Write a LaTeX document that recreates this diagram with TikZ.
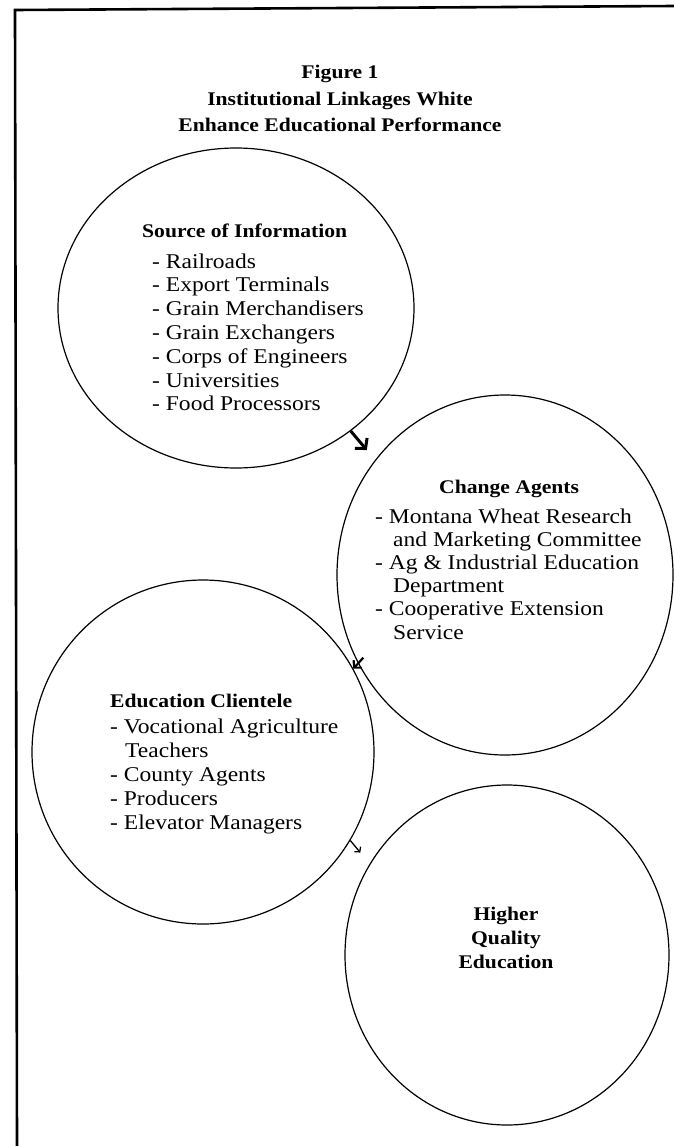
\documentclass[tikz,border=0pt]{standalone}
\usepackage{fontspec}
\setmainfont{Liberation Serif}[FakeStretch=1.12]
\usetikzlibrary{shapes.geometric,arrows.meta,calc}

\newcommand\bodysize{\fontsize{21}{24}\selectfont}
\newcommand\headsize{\fontsize{19.3}{24}\selectfont\bfseries}

\tikzset{
  bubble/.style={ellipse, draw, line width=1.2pt, inner sep=0pt},
  item/.style={anchor=base west, inner sep=0pt, font=\bodysize},
  head/.style={anchor=base west, inner sep=0pt, font=\headsize},
  bigarr/.style={line width=3pt, -{Straight Barb[length=7pt,width=16pt]}},
  smallarr/.style={line width=2.2pt, -{Straight Barb[length=5pt,width=11pt]}},
  thinarr/.style={line width=1.3pt, -{Straight Barb[length=3.5pt,width=8pt]}},
}

\begin{document}
\begin{tikzpicture}[x=1pt,y=-1pt]
  \useasboundingbox (0,0) rectangle (674,1146);
  %%%%% frame %%%%%
  \draw[line width=2.6pt] (17,1146) -- (15,10) -- (674,6);

  %%%%% title %%%%%
  \node[font=\headsize, anchor=base, inner sep=0pt] (fig) at (340,78) {Figure 1};
  \node[font=\headsize, anchor=base, inner sep=0pt] (ttl1) at (340,105) {Institutional Linkages White};
  \node[font=\headsize, anchor=base, inner sep=0pt] (ttl2) at (340,131) {Enhance Educational Performance};

  %%%%% bubbles %%%%%
  \node[bubble, minimum width=356pt, minimum height=320pt] (src) at (236,308) {};
  \node[bubble, minimum width=336pt, minimum height=360pt] (agents) at (505,575) {};
  \node[bubble, minimum width=342pt, minimum height=344pt] (clients) at (203,752) {};
  \node[bubble, minimum width=324pt, minimum height=340pt] (quality) at (507,955) {};

  %%%%% source of information %%%%%
  \node[head] (src-h) at (142,237) {Source of Information};
  \foreach \t [count=\i from 0] in {Railroads, Export Terminals, Grain Merchandisers,
      Grain Exchangers, Corps of Engineers, Universities, Food Processors}
    \node[item] (src-\i) at (152,268+23.8*\i) {- \t};

  %%%%% change agents %%%%%
  \node[head] (agents-h) at (439,493) {Change Agents};
  \foreach \x/\t [count=\i from 0] in {375/- Montana Wheat Research, 393/and Marketing Committee,
      375/- Ag \& Industrial Education, 393/Department, 375/- Cooperative Extension, 393/Service}
    \node[item] (agents-\i) at (\x,523+23.2*\i) {\t};

  %%%%% education clientele %%%%%
  \node[head] (clients-h) at (110,707) {Education Clientele};
  \foreach \x/\t [count=\i from 0] in {110/- Vocational Agriculture, 125/Teachers,
      110/- County Agents, 110/- Producers, 110/- Elevator Managers}
    \node[item] (clients-\i) at (\x,733+24*\i) {\t};

  %%%%% higher quality education (base = last line) %%%%%
  \node[font=\headsize, align=center, anchor=base, inner sep=0pt] (quality-h) at (506,968)
    {Higher\\Quality\\Education};

  %%%%% arrows %%%%%
  \draw[bigarr] (src.-47) -- ++(16,19);
  \draw[smallarr] ($(clients.29)+(10,-11)$) -- (clients.29);
  \draw[thinarr] (clients.-31) -- ++(10,12);
\end{tikzpicture}
\end{document}
